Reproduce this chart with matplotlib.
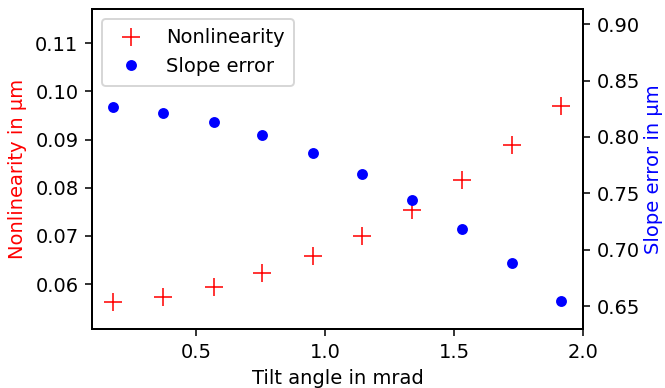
import matplotlib
matplotlib.use("Agg")
import matplotlib.pyplot as plt

# tilt angle (mrad) and measured quantities (µm)
tilt = [0.179, 0.374, 0.568, 0.757, 0.952, 1.145, 1.336, 1.530, 1.725, 1.915]
nonlinearity = [0.0564, 0.0573, 0.0594, 0.0623, 0.0658, 0.0700, 0.0754, 0.0816, 0.0889, 0.0969]
slope_error = [0.827, 0.8217, 0.8134, 0.8019, 0.7861, 0.7675, 0.7441, 0.7181, 0.6879, 0.6544]

dpi = 140
plt.rcParams["axes.linewidth"] = 1.0
fig = plt.figure(figsize=(665 / dpi, 388 / dpi), dpi=dpi)
ax = fig.add_axes([92 / 665, 1 - 329 / 388, (583 - 92) / 665, (329 - 9) / 388])
ax2 = ax.twinx()

l1, = ax.plot(tilt, nonlinearity, "+", color="red", ms=8.8, mew=0.8, label="Nonlinearity")
l2, = ax2.plot(tilt, slope_error, "o", color="blue", ms=4.6, label="Slope error")

ax.set_xlim(0.097, 2.0)
ax.set_ylim(0.0507, 0.1171)
ax2.set_ylim(0.6296, 0.9136)
ax.set_xticks([0.5, 1.0, 1.5, 2.0])
ax.set_yticks([0.06, 0.07, 0.08, 0.09, 0.10, 0.11])
ax2.set_yticks([0.65, 0.70, 0.75, 0.80, 0.85, 0.90])

ax.set_xlabel("Tilt angle in mrad")
ax.set_ylabel("Nonlinearity in µm", color="red")
ax2.set_ylabel("Slope error in µm", color="blue", labelpad=2)

ax.legend(handles=[l1, l2], loc="upper left", borderpad=0.5)

fig.savefig("out.png", dpi=dpi)
